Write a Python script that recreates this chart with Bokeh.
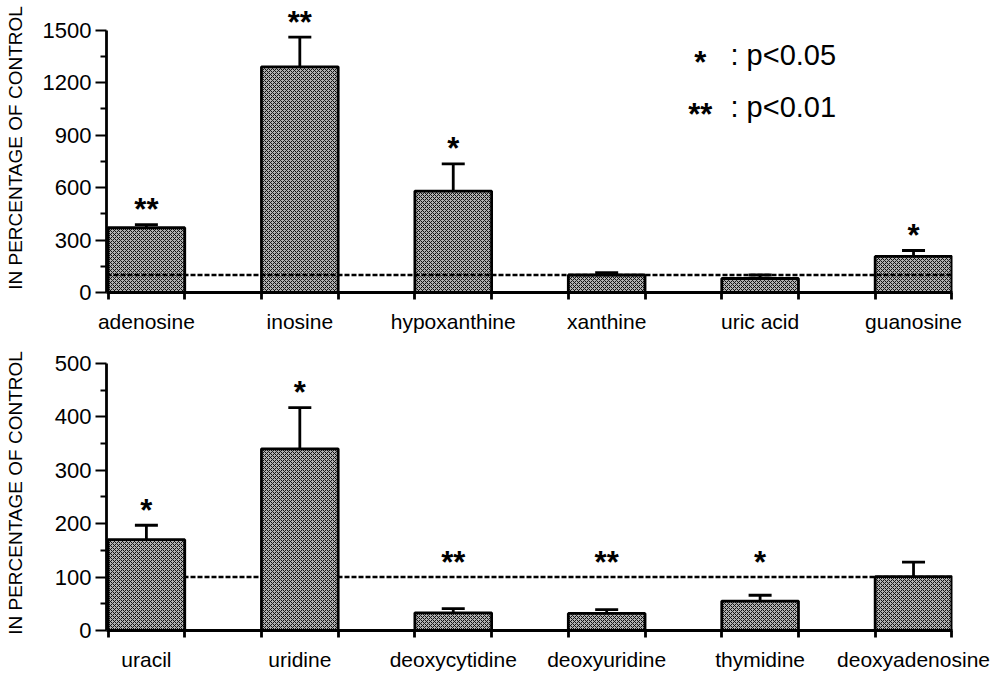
from bokeh.plotting import figure
from bokeh.models import Range1d, FixedTicker, Span, Whisker, TeeHead, ColumnDataSource
from bokeh.layouts import column
from bokeh.embed import file_html
from bokeh.resources import INLINE
from bokeh.core.properties import value

# ---------------- data ----------------
top_categories = ["adenosine", "inosine", "hypoxanthine", "xanthine", "uric acid", "guanosine"]
top_values = [370, 1290, 580, 100, 80, 206]
top_errors = [18, 170, 155, 13, 20, 34]
top_signif = ["**", "**", "*", "", "", "*"]

bottom_categories = ["uracil", "uridine", "deoxycytidine", "deoxyuridine", "thymidine", "deoxyadenosine"]
bottom_values = [170, 340, 33, 32, 55, 101]
bottom_errors = [27, 77, 8, 7, 11, 27]
bottom_signif = ["*", "*", "**", "**", "*", ""]

control_level = 100
legend_marks = ["*", "**"]
legend_texts = [": p<0.05", ": p<0.01"]
y_label = "IN PERCENTAGE OF CONTROL"

# ---------------- style ----------------
FONT = "Liberation Sans"
BAR_W = 0.5


def make_panel(cats, vals, errs, sig, ymax, major, yend, height, b_top, b_bottom,
               label_standoff, control_on_top):
    n = len(cats)
    xs = list(range(n))
    src = ColumnDataSource(dict(
        x=xs, val=vals, upper=[v + e for v, e in zip(vals, errs)],
        anchor=[max(v + e, control_level) for v, e in zip(vals, errs)],
        sig=sig))

    p = figure(width=997, height=height, output_backend="svg", toolbar_location=None,
               x_range=Range1d(-0.26, n - 1 + 0.254), y_range=Range1d(0, yend),
               min_border_left=106, min_border_right=45,
               min_border_top=b_top, min_border_bottom=b_bottom)
    p.xgrid.visible = False
    p.ygrid.visible = False
    p.outline_line_color = None
    p.background_fill_color = "white"
    p.border_fill_color = "white"

    span = Span(location=control_level, dimension="width", line_color="black",
                line_width=2.5, line_dash="5 2",
                level="overlay" if control_on_top else "underlay")
    p.add_layout(span)

    p.vbar(x="x", top="val", bottom=0, width=BAR_W, source=src,
           fill_color="#b0b0b0", hatch_pattern="diagonal_cross", hatch_color="#111111",
           hatch_scale=4, hatch_weight=1.0, line_color="black", line_width=2.8)

    wh = Whisker(source=src, base="x", upper="upper", lower="val", dimension="height",
                 line_color="black", line_width=2.8,
                 upper_head=TeeHead(size=23, line_color="black", line_width=2.8),
                 lower_head=None)
    p.add_layout(wh)

    p.text(x="x", y="anchor", text="sig", source=src, text_font=value(FONT),
           text_font_style="bold", text_font_size="31px", text_align="center",
           text_baseline="middle", y_offset=-15, text_color="black")

    # x axis
    xa = p.xaxis[0]
    xa.ticker = FixedTicker(ticks=xs,
                            minor_ticks=[x + d for x in xs for d in (-BAR_W / 2, BAR_W / 2)])
    xa.major_label_overrides = {i: c for i, c in enumerate(cats)}
    xa.major_tick_line_color = None
    xa.major_tick_out = 0
    xa.major_tick_in = 0
    xa.minor_tick_out = 7
    xa.minor_tick_in = 0
    xa.minor_tick_line_width = 2.8
    xa.minor_tick_line_color = "black"
    xa.axis_line_width = 2.8
    xa.axis_line_color = "black"
    xa.major_label_text_font = FONT
    xa.major_label_text_font_size = "21px"
    xa.major_label_text_color = "black"
    xa.major_label_standoff = 10

    # y axis
    ya = p.yaxis[0]
    ya.ticker = FixedTicker(ticks=list(range(0, ymax + 1, major)),
                            minor_ticks=list(range(major // 2, ymax, major)))
    ya.bounds = (0, ymax)
    ya.axis_line_width = 2.8
    ya.axis_line_color = "black"
    ya.major_tick_out = 11
    ya.major_tick_in = 0
    ya.major_tick_line_width = 2.2
    ya.minor_tick_out = 6
    ya.minor_tick_in = 0
    ya.minor_tick_line_width = 2.2
    ya.major_label_text_font = FONT
    ya.major_label_text_font_size = "22px"
    ya.major_label_text_color = "black"
    ya.major_label_standoff = 4
    ya.axis_label = y_label
    ya.axis_label_text_font = FONT
    ya.axis_label_text_font_style = "normal"
    ya.axis_label_text_font_size = "19px"
    ya.axis_label_text_color = "black"
    ya.axis_label_standoff = label_standoff
    return p


top = make_panel(top_categories, top_values, top_errors, top_signif,
                 ymax=1500, major=300, yend=1652, height=335, b_top=3, b_bottom=38,
                 label_standoff=14, control_on_top=True)

# significance legend
top.text(x=[3.61, 3.61], y=[1360, 1062], text=legend_marks, text_font=value(FONT),
         text_font_style="bold", text_font_size="31px", text_align="center",
         text_baseline="middle", y_offset=8, text_color="black")
top.text(x=[3.807, 3.807], y=[1360, 1062], text=legend_texts, text_font=value(FONT),
         text_font_size="29px", text_align="left", text_baseline="middle",
         text_color="black")

bottom = make_panel(bottom_categories, bottom_values, bottom_errors, bottom_signif,
                    ymax=500, major=100, yend=514.7, height=338, b_top=20, b_bottom=37,
                    label_standoff=26, control_on_top=False)

layout = column(top, bottom, spacing=0)
open("out.html", "w").write(file_html(layout, INLINE))
